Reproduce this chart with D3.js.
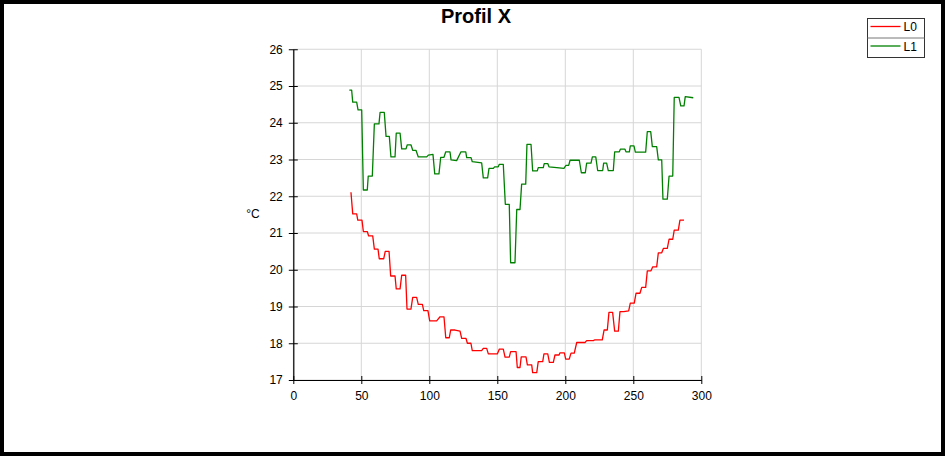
<!DOCTYPE html>
<html>
<head>
<meta charset="utf-8">
<title>Profil X</title>
<script src="https://cdn.jsdelivr.net/npm/d3@7"></script>
<style>
    body { margin: 0; background: #fff; }
    text { font-family: "Liberation Sans", Arial, sans-serif; }
</style>
</head>
<body>
<div id="chart"></div>
<script>
// Chart data (step corners of each profile)
var chartTitle = "Profil X";
var yLabel = "°C";
var seriesNames = ["L0", "L1"];
var seriesColors = ["#ff0000", "#008000"];
var xTicks = [0, 50, 100, 150, 200, 250, 300];
var yTicks = [17, 18, 19, 20, 21, 22, 23, 24, 25, 26];

var l0X = [42.4, 43.7, 46.6, 47.4, 50.5, 51.5, 54.4, 55.4, 58.4, 59.6, 62.3, 63.2, 66.5, 67.6, 70.4,
    71.6, 74.8, 75.7, 78.5, 79.7, 82.6, 83.6, 86.5, 87.8, 90.7, 91.9, 94.9, 95.9, 99.0, 100.3,
    105.4, 107.9, 110.8, 112.1, 114.7, 115.7, 118.9, 122.6, 123.8, 127.0, 128.0, 130.6, 131.6, 138.5, 139.7,
    142.2, 143.4, 150.0, 151.5, 154.4, 155.7, 158.8, 159.8, 163.8, 164.7, 166.7, 167.6, 171.1, 172.1, 175.3,
    176.0, 179.0, 180.1, 183.4, 184.3, 187.1, 188.3, 191.2, 192.4, 195.4, 196.1, 199.3, 200.3, 202.9, 204.2,
    206.6, 208.4, 214.5, 215.7, 220.6, 221.5, 227.2, 228.5, 230.9, 232.1, 234.8, 236.3, 239.0, 240.2, 243.0,
    246.6, 247.8, 250.7, 252.0, 254.9, 256.2, 259.1, 260.3, 263.0, 264.3, 267.2, 268.4, 270.9, 272.1, 275.0,
    276.3, 279.0, 280.1, 283.1, 284.3, 287.3];
var l0Y = [22.11, 21.52, 21.52, 21.35, 21.35, 21.04, 21.04, 20.92, 20.92, 20.56, 20.56, 20.30, 20.30, 20.50, 20.50,
    19.83, 19.83, 19.48, 19.48, 19.85, 19.85, 18.93, 18.93, 19.25, 19.25, 19.06, 19.06, 18.89, 18.89, 18.61,
    18.61, 18.72, 18.72, 18.15, 18.15, 18.36, 18.36, 18.33, 18.13, 18.13, 18.00, 18.00, 17.80, 17.80, 17.86,
    17.86, 17.71, 17.71, 17.84, 17.84, 17.62, 17.62, 17.77, 17.77, 17.34, 17.34, 17.63, 17.63, 17.41, 17.41,
    17.20, 17.20, 17.50, 17.50, 17.71, 17.71, 17.48, 17.48, 17.68, 17.68, 17.74, 17.74, 17.57, 17.57, 17.73,
    17.73, 18.02, 18.02, 18.07, 18.07, 18.09, 18.09, 18.36, 18.36, 18.84, 18.84, 18.33, 18.33, 18.86, 18.86,
    18.88, 19.09, 19.09, 19.36, 19.36, 19.52, 19.52, 19.97, 19.97, 20.08, 20.08, 20.46, 20.46, 20.58, 20.58,
    20.83, 20.83, 21.08, 21.08, 21.35, 21.35];

var l1X = [41.2, 42.9, 43.7, 46.6, 47.6, 50.3, 51.5, 54.4, 55.1, 58.1, 59.6, 63.0, 63.8, 66.9, 68.2,
    70.6, 71.8, 74.8, 75.7, 78.5, 79.7, 82.9, 83.8, 86.5, 87.8, 90.2, 91.9, 98.1, 99.3, 102.7,
    104.0, 107.1, 108.4, 110.8, 112.1, 115.2, 116.0, 120.1, 123.3, 126.8, 127.5, 130.7, 131.6, 138.5, 139.7,
    142.9, 143.9, 147.1, 148.0, 150.7, 151.5, 154.4, 155.9, 158.8, 159.8, 163.0, 164.3, 166.7, 167.9, 170.9,
    171.8, 174.8, 176.0, 179.4, 180.1, 183.8, 184.5, 187.1, 188.0, 193.7, 199.0, 200.5, 202.5, 203.5, 210.3,
    211.8, 214.7, 215.7, 218.9, 219.9, 222.4, 223.8, 227.5, 228.2, 230.4, 231.6, 235.3, 236.3, 239.7, 240.5,
    243.9, 244.6, 247.1, 247.8, 250.5, 251.5, 259.1, 260.3, 262.8, 264.0, 267.2, 268.4, 270.9, 271.8, 275.0,
    276.3, 279.0, 280.1, 283.6, 284.9, 287.3, 288.2, 294.1];
var l1Y = [24.89, 24.89, 24.56, 24.56, 24.35, 24.35, 22.17, 22.17, 22.55, 22.55, 23.97, 23.97, 24.28, 24.28, 23.63,
    23.63, 23.07, 23.07, 23.72, 23.72, 23.29, 23.29, 23.40, 23.40, 23.25, 23.25, 23.07, 23.07, 23.12, 23.14,
    22.61, 22.61, 23.06, 23.06, 23.21, 23.21, 22.99, 22.97, 23.21, 23.21, 23.05, 23.05, 22.94, 22.91, 22.50,
    22.50, 22.76, 22.76, 22.80, 22.80, 22.87, 22.87, 21.78, 21.78, 20.19, 20.19, 21.64, 21.64, 22.33, 22.33,
    23.41, 23.41, 22.69, 22.69, 22.78, 22.78, 22.89, 22.89, 22.80, 22.78, 22.76, 22.84, 22.84, 22.98, 22.98,
    22.64, 22.64, 22.90, 22.90, 23.07, 23.07, 22.70, 22.70, 22.90, 22.90, 22.70, 22.70, 23.21, 23.21, 23.28,
    23.28, 23.21, 23.21, 23.37, 23.37, 23.20, 23.20, 23.76, 23.76, 23.35, 23.35, 22.99, 22.99, 21.92, 21.92,
    22.55, 22.55, 24.69, 24.69, 24.46, 24.46, 24.71, 24.68];

function init() {
    var w = 945;
    var h = 456;

    var svg = d3.select("#chart")
        .append("svg")
        .attr("width", w)
        .attr("height", h);

    // White page with the thick black frame
    svg.append("rect")
        .attr("x", 2).attr("y", 2)
        .attr("width", w - 4).attr("height", h - 4)
        .attr("fill", "#fff")
        .attr("stroke", "#000")
        .attr("stroke-width", 4);

    var margin = { top: 49.25, left: 293.3 },
        width = 408,
        height = 330.75;

    var x = d3.scaleLinear().domain([0, 300]).range([0, width]);
    var y = d3.scaleLinear().domain([17, 26]).range([height, 0]);

    var g = svg.append("g")
        .attr("transform", `translate(${margin.left},${margin.top})`);

    // Grid lines
    g.append("g")
        .selectAll("line")
        .data(xTicks)
        .enter().append("line")
        .attr("x1", d => x(d)).attr("x2", d => x(d))
        .attr("y1", 0).attr("y2", height)
        .attr("stroke", "#d6d6d6");

    g.append("g")
        .selectAll("line")
        .data(yTicks)
        .enter().append("line")
        .attr("x1", 0).attr("x2", width)
        .attr("y1", d => y(d)).attr("y2", d => y(d))
        .attr("stroke", "#d6d6d6");

    // Lines
    var series = [d3.zip(l0X, l0Y), d3.zip(l1X, l1Y)];
    var line = d3.line()
        .x(d => x(d[0]))
        .y(d => y(d[1]));

    g.selectAll(".series")
        .data(series)
        .enter().append("path")
        .attr("class", "series")
        .attr("d", line)
        .attr("fill", "none")
        .attr("stroke", (d, i) => seriesColors[i])
        .attr("stroke-width", 1.3)
        .attr("stroke-linejoin", "round");

    // Axes, ticks cross the axis line
    var xAxis = g.append("g")
        .attr("transform", `translate(0,${height})`)
        .call(d3.axisBottom(x).tickValues(xTicks).tickSize(4).tickSizeOuter(0).tickPadding(7));
    xAxis.selectAll(".tick line").attr("y1", -4);

    var yAxis = g.append("g")
        .call(d3.axisLeft(y).tickValues(yTicks).tickSize(4.5).tickSizeOuter(0).tickPadding(6));
    yAxis.selectAll(".tick line").attr("x1", 4.5);

    svg.selectAll(".domain").attr("stroke", "#000").attr("stroke-width", 1.2);
    svg.selectAll(".tick line").attr("stroke", "#000");
    svg.selectAll(".tick text")
        .attr("fill", "#000")
        .style("font-size", "12px")
        .style("font-family", "'Liberation Sans', Arial, sans-serif");

    // Title and unit
    svg.append("text")
        .attr("x", 476)
        .attr("y", 23)
        .attr("text-anchor", "middle")
        .style("font-size", "20px")
        .style("font-weight", "bold")
        .text(chartTitle);

    svg.append("text")
        .attr("x", 253)
        .attr("y", 218)
        .attr("text-anchor", "middle")
        .style("font-size", "12px")
        .text(yLabel);

    // Legend box
    var legend = svg.append("g").attr("transform", "translate(867.5,18.5)");
    legend.append("rect")
        .attr("width", 57).attr("height", 39)
        .attr("fill", "#fff")
        .attr("stroke", "#333");
    legend.append("line")
        .attr("x1", 0).attr("x2", 57)
        .attr("y1", 19.5).attr("y2", 19.5)
        .attr("stroke", "#777");

    seriesNames.forEach(function (name, i) {
        var row = legend.append("g").attr("transform", `translate(0,${i * 19.5 + 8})`);
        row.append("line")
            .attr("x1", 3).attr("x2", 33)
            .attr("y1", 0).attr("y2", 0)
            .attr("stroke", seriesColors[i])
            .attr("stroke-width", 1.3);
        row.append("text")
            .attr("x", 36)
            .attr("y", 4.5)
            .style("font-size", "12px")
            .text(name);
    });
}

window.onload = init;
</script>
</body>
</html>
